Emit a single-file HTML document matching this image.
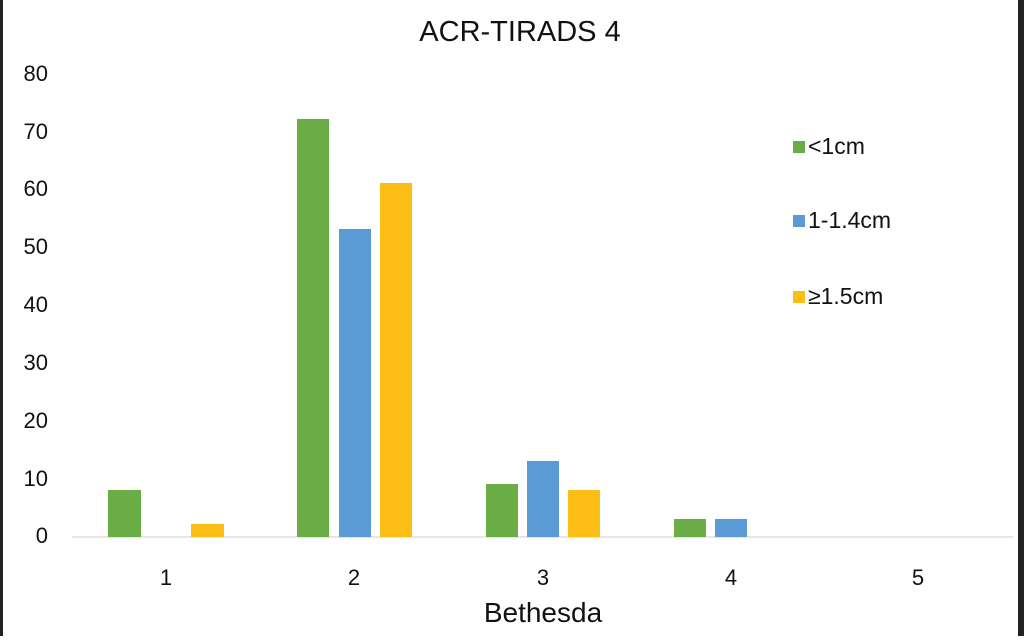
<!DOCTYPE html>
<html><head><style>body{margin:0;background:#fff}</style></head><body>
<svg width="1024" height="636" xmlns="http://www.w3.org/2000/svg" font-family="Liberation Sans, sans-serif">
<rect width="1024" height="636" fill="#fff"/>
<rect x="0" y="0" width="3" height="636" fill="#222"/>
<rect x="1018" y="0" width="6" height="636" fill="#222"/>
<text x="520" y="41" font-size="29" text-anchor="middle" fill="#111">ACR-TIRADS 4</text>
<g font-size="22" fill="#111" text-anchor="end">
<text x="48" y="81">80</text><text x="48" y="139">70</text><text x="48" y="196">60</text>
<text x="48" y="254">50</text><text x="48" y="312">40</text><text x="48" y="370">30</text>
<text x="48" y="428">20</text><text x="48" y="486">10</text><text x="48" y="543">0</text>
</g>
<line x1="72" y1="537" x2="1013" y2="537" stroke="#ddd" stroke-width="1.5"/>
<g fill="#6aac45">
<rect x="108" y="490" width="33" height="47"/>
<rect x="297" y="119" width="32" height="418"/>
<rect x="486" y="484" width="32" height="53"/>
<rect x="674" y="519" width="32" height="18"/>
</g>
<g fill="#5b9bd5">
<rect x="339" y="229" width="32" height="308"/>
<rect x="527" y="461" width="32" height="76"/>
<rect x="715" y="519" width="32" height="18"/>
</g>
<g fill="#fcbd14">
<rect x="191" y="524" width="33" height="13"/>
<rect x="380" y="183" width="32" height="354"/>
<rect x="568" y="490" width="32" height="47"/>
</g>
<g font-size="22" fill="#111" text-anchor="middle">
<text x="166" y="585">1</text><text x="354" y="585">2</text><text x="543" y="585">3</text>
<text x="731" y="585">4</text><text x="918" y="585">5</text>
</g>
<text x="543" y="622" font-size="28" text-anchor="middle" fill="#111">Bethesda</text>
<rect x="793" y="141" width="12" height="12" fill="#6aac45"/>
<rect x="793" y="215" width="12" height="12" fill="#5b9bd5"/>
<rect x="793" y="291" width="12" height="12" fill="#fcbd14"/>
<g font-size="23" fill="#111">
<text x="808" y="154">&lt;1cm</text>
<text x="808" y="228">1-1.4cm</text>
<text x="808" y="304">≥1.5cm</text>
</g>
</svg>
</body></html>
